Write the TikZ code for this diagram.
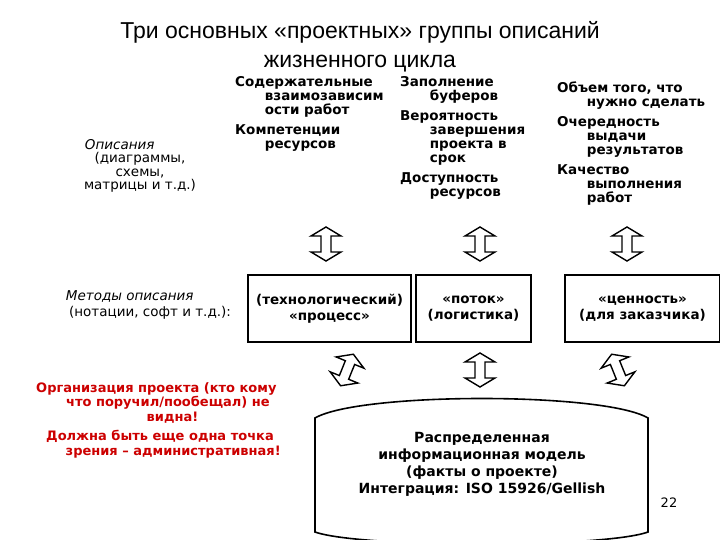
\documentclass[tikz,border=0pt]{standalone}
\usepackage{fontspec}
\setmainfont{DejaVu Sans}
\newfontfamily\titlefont{Liberation Sans}
\begin{document}
\begin{tikzpicture}[x=1pt,y=-1pt,
  txt/.style={inner sep=0pt,anchor=north west,align=left,font=\fontsize{13.5}{14}\selectfont\bfseries},
  ctr/.style={inner sep=0pt,align=center,font=\fontsize{13.5}{16}\selectfont\bfseries},
  boxst/.style={draw,line width=1.2pt,minimum height=67pt,inner sep=0pt},
  redt/.style={text=red!80!black,inner sep=0pt,anchor=north west,align=left,font=\fontsize{13}{14.5}\selectfont\bfseries},
  barrow/.pic={\draw[line width=1.4pt,fill=white,line join=miter] (0,-17)--(15,-8)--(5,-8)--(5,8)--(15,8)--(0,17)--(-15,8)--(-5,8)--(-5,-8)--(-15,-8)--cycle;}]
\useasboundingbox (0,0) rectangle (720,540);
\node[font=\titlefont\fontsize{23}{29}\selectfont,align=center] (title) at (360,47) {Три основных «проектных» группы описаний\\жизненного цикла};
\node[txt] (c1) at (235,76) {Содержательные\\\hspace*{2.2em}взаимозависим\\\hspace*{2.2em}ости работ\\[6pt]Компетенции\\\hspace*{2.2em}ресурсов};
\node[txt] (c2) at (400,76) {Заполнение\\\hspace*{2.2em}буферов\\[6pt]Вероятность\\\hspace*{2.2em}завершения\\\hspace*{2.2em}проекта в\\\hspace*{2.2em}срок\\[6pt]Доступность\\\hspace*{2.2em}ресурсов};
\node[txt] (c3) at (557,82) {Объем того, что\\\hspace*{2.2em}нужно сделать\\[6pt]Очередность\\\hspace*{2.2em}выдачи\\\hspace*{2.2em}результатов\\[6pt]Качество\\\hspace*{2.2em}выполнения\\\hspace*{2.2em}работ};
\node[ctr,font=\fontsize{13.5}{13.5}\selectfont] (desc) at (140,166) {\textit{Описания}\hspace*{3em}\\(диаграммы,\\схемы,\\матрицы и т.д.)};
\node[ctr,font=\fontsize{13.5}{16}\selectfont] (meth) at (150,305) {\textit{Методы описания}\hspace*{3em}\\(нотации, софт и т.д.):};
\node[boxst,minimum width=163pt] (b1) at (329.5,308.5) {};
\node[ctr] at (b1) {(технологический)\\«процесс»};
\node[boxst,minimum width=115pt] (b2) at (473.5,308.5) {};
\node[ctr] at (b2) {«поток»\\(логистика)};
\node[boxst,minimum width=155pt] (b3) at (642.5,308.5) {};
\node[ctr] at (b3) {«ценность»\\(для заказчика)};
\pic at (326,244) {barrow};
\pic at (480,244) {barrow};
\pic at (627,244) {barrow};
\pic[rotate=-22] at (347,370) {barrow};
\pic at (480,370) {barrow};
\pic[rotate=22] at (618,370) {barrow};
\draw[line width=1.6pt,fill=white] (315,418) .. controls (360,392) and (604,392) .. (648,418) -- (648,532) .. controls (604,548) and (360,548) .. (315,532) -- cycle;
\node[ctr,font=\fontsize{14}{17}\selectfont\bfseries] (db) at (482,464) {Распределенная\\информационная модель\\(факты о проекте)\\Интеграция: ISO 15926/Gellish};
\node[redt] (red1) at (36,382) {Организация проекта (кто кому\\\hspace*{2.3em}что поручил/пообещал) не\\\hspace*{8.5em}видна!};
\node[redt] (red2) at (46,430) {Должна быть еще одна точка\\\hspace*{1.5em}зрения -- административная!};
\node[font=\fontsize{13}{14}\selectfont] (num) at (669,503) {22};
\end{tikzpicture}
\end{document}
